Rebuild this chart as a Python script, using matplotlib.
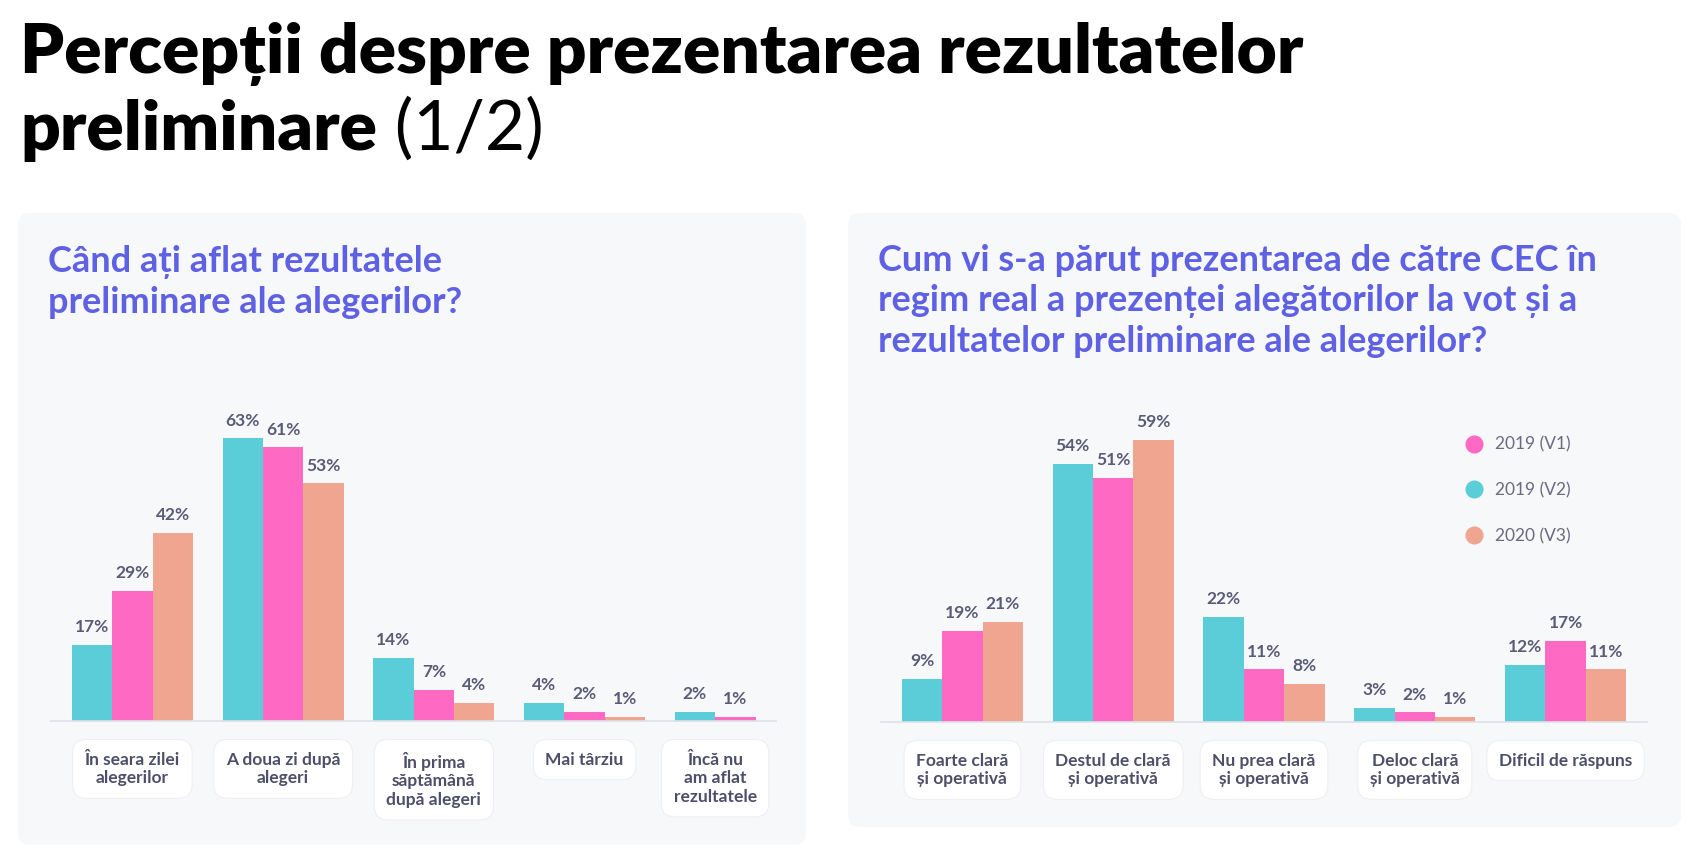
import matplotlib
matplotlib.use("Agg")
import matplotlib.pyplot as plt
import numpy as np
from matplotlib.patches import FancyBboxPatch
from matplotlib.lines import Line2D

plt.rcParams['font.family'] = ['Lato', 'DejaVu Sans']

# series, in the order the bars are drawn inside each group
series_names = ["2019 (V2)", "2019 (V1)", "2020 (V3)"]
series_colors = ["#5BCDD9", "#FD69C3", "#F0A590"]
legend_order = [1, 0, 2]

# left question
q1_categories = ["În seara zilei\nalegerilor", "A doua zi după\nalegeri",
                 "În prima\nsăptămână\ndupă alegeri", "Mai târziu",
                 "Încă nu\nam aflat\nrezultatele"]
q1_v2 = [17, 63, 14, 4, 2]
q1_v1 = [29, 61, 7, 2, 1]
q1_v3 = [42, 53, 4, 1, np.nan]

# right question
q2_categories = ["Foarte clară\nși operativă", "Destul de clară\nși operativă",
                 "Nu prea clară\nși operativă", "Deloc clară\nși operativă",
                 "Dificil de răspuns"]
q2_v2 = [9, 54, 22, 3, 12]
q2_v1 = [19, 51, 11, 2, 17]
q2_v3 = [21, 59, 8, 1, 11]

W, H = 1694, 850
fig = plt.figure(figsize=(W / 100, H / 100), dpi=100)
fig.patch.set_facecolor("white")

# full-figure axes in pixel units for the panels and headings
bg = fig.add_axes([0, 0, 1, 1], zorder=0)
bg.set_xlim(0, W)
bg.set_ylim(H, 0)
bg.axis("off")


def panel(x0, y0, x1, y1):
    bg.add_patch(FancyBboxPatch((x0, y0), x1 - x0, y1 - y0,
                                boxstyle="round,pad=0,rounding_size=12",
                                fc="#F7F8FA", ec="none"))


panel(18, 213, 806, 845)
panel(848, 213, 1681, 827)

bg.text(20, 73, "Percepții despre prezentarea rezultatelor", fontsize=50,
        fontweight="heavy", color="black", va="baseline")
t2 = bg.text(20, 150, "preliminare", fontsize=50, fontweight="heavy",
             color="black", va="baseline")
bg.annotate(" (1/2)", xy=(1, 0), xycoords=t2, va="bottom", ha="left",
            fontsize=50, fontweight="normal", color="black")

sub_color = "#5F61E4"
bg.text(48, 245, "Când ați aflat rezultatele\npreliminare ale alegerilor?",
        fontsize=26, fontweight="bold", color=sub_color, va="top",
        linespacing=1.26)
bg.text(878, 244, "Cum vi s-a părut prezentarea de către CEC în\n"
        "regim real a prezenței alegătorilor la vot și a\n"
        "rezultatelor preliminare ale alegerilor?",
        fontsize=26, fontweight="bold", color=sub_color, va="top",
        linespacing=1.25)


def bar_chart(rect, cats, values, xlim, ylim):
    ax = fig.add_axes(rect, zorder=2)
    ax.set_facecolor("none")
    x = np.arange(len(cats))
    width = 0.268
    offsets = [-width, 0, width]
    present = []
    for vals, off, color in zip(values, offsets, series_colors):
        vals = np.asarray(vals, float)
        ax.bar(x + off, np.nan_to_num(vals), width, color=color, zorder=2)
        present.append(~np.isnan(vals))
        for xi, v in zip(x + off, vals):
            if np.isnan(v):
                continue
            ax.annotate(f"{v:.0f}%", (xi, v), xytext=(0, 7),
                        textcoords="offset points", ha="center", va="bottom",
                        fontsize=12.5, fontweight="bold", color="#5B5B78")
    present = np.array(present)
    off_arr = np.array(offsets)
    ticks = [x[i] + off_arr[present[:, i]].mean() for i in range(len(cats))]
    ax.set_xticks(ticks)
    ax.set_xticklabels(cats, fontsize=12.5, fontweight="bold", color="#4E4E6A",
                       va="top", linespacing=1.2)
    for lbl in ax.get_xticklabels():
        lbl.set_multialignment("center")
        lbl.set_bbox(dict(boxstyle="round,pad=0.7,rounding_size=0.8",
                          fc="white", ec="#EFEFF3", lw=0.8))
    ax.tick_params(axis="x", length=0, pad=22)
    ax.set_yticks([])
    for s in ["top", "left", "right"]:
        ax.spines[s].set_visible(False)
    ax.spines["bottom"].set_color("#E0E0E8")
    ax.spines["bottom"].set_linewidth(1.2)
    ax.set_xlim(*xlim)
    ax.set_ylim(*ylim)
    return ax


ax1 = bar_chart([51 / W, (H - 721) / H, 725 / W, 314 / H], q1_categories,
                [q1_v2, q1_v1, q1_v3], (-0.54, 4.27), (0, 70))
ax2 = bar_chart([881 / W, (H - 722) / H, 766 / W, 335 / H], q2_categories,
                [q2_v2, q2_v1, q2_v3], (-0.54, 4.54), (0, 70))

handles = [Line2D([], [], marker="o", ls="none", markersize=13,
                  mfc=series_colors[i], mec="none") for i in legend_order]
labels = [series_names[i] for i in legend_order]
fig.legend(handles, labels, loc="upper left",
           bbox_to_anchor=(1457 / W, 1 - 428 / H), frameon=False,
           fontsize=12.5, labelcolor="#6B6B80", labelspacing=1.7,
           handlelength=1.0, handletextpad=0.7, borderpad=0)

fig.savefig("out.png", dpi=100, facecolor="white")
